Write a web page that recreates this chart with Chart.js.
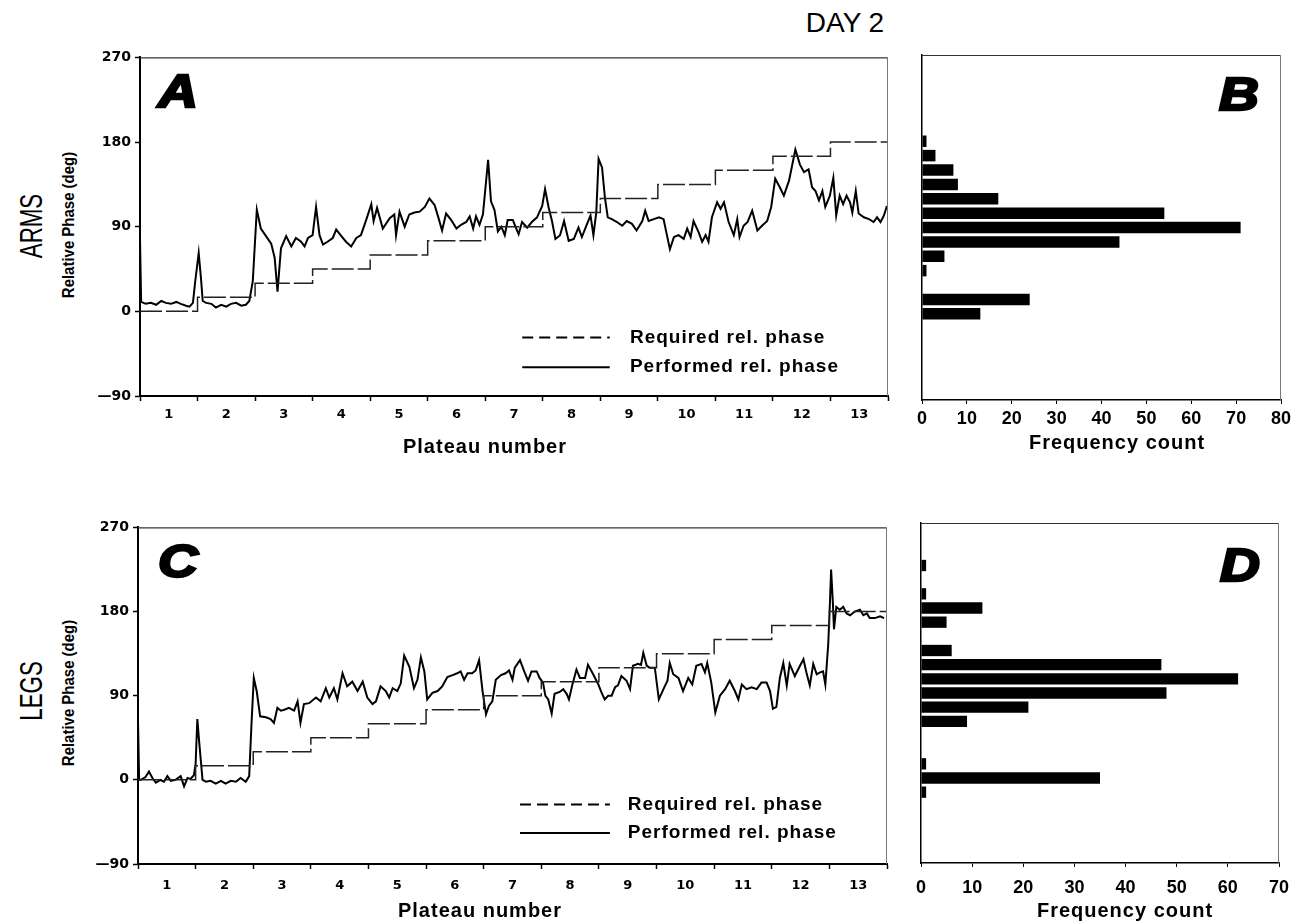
<!DOCTYPE html>
<html lang="en">
<head>
<meta charset="UTF-8">
<title>Day 2 - relative phase</title>
<script src="https://cdn.jsdelivr.net/npm/chart.js"></script>
<style>
  html, body { margin: 0; padding: 0; background: #fff; }
  body { width: 1291px; height: 922px; position: relative; overflow: hidden; color: #000;
         font-family: "Liberation Sans", Arial, sans-serif; }
  .box { position: absolute; }
  .lbl { position: absolute; white-space: nowrap; line-height: 1; transform: translate(-50%, -50%); }
  .axt { font-weight: bold; font-size: 20px; letter-spacing: 1px; }
  .letter { position: absolute; white-space: nowrap; line-height: 1; font-style: italic; font-weight: bold;
            font-size: 46px; -webkit-text-stroke: 2.5px #000; transform: translate(-50%, -50%) scaleX(1.2); }
  .side { position: absolute; white-space: nowrap; line-height: 1; font-size: 31px;
          transform: translate(-50%, -50%) rotate(-90deg) scaleX(0.72); }
  .ytl { position: absolute; white-space: nowrap; line-height: 1; font-size: 17px; font-weight: bold;
         transform: translate(-50%, -50%) rotate(-90deg) scaleX(0.88); }
</style>
</head>
<body>

<div class="lbl" style="left:845px; top:23px; font-size:28px;">DAY 2</div>

<div class="side" style="left:31px; top:226px;">ARMS</div>
<div class="ytl" style="left:68px; top:225px;">Relative Phase (deg)</div>
<div class="side" style="left:31px; top:691px;">LEGS</div>
<div class="ytl" style="left:68px; top:693px;">Relative Phase (deg)</div>

<div class="box" style="left:60px; top:45px; width:838px; height:420px;"><canvas id="chartA"></canvas></div>
<div class="box" style="left:912px; top:45px; width:379px; height:420px;"><canvas id="chartB"></canvas></div>
<div class="box" style="left:60px; top:515px; width:837px; height:400px;"><canvas id="chartC"></canvas></div>
<div class="box" style="left:911px; top:513px; width:380px; height:402px;"><canvas id="chartD"></canvas></div>

<div class="lbl axt" style="left:485px; top:446px;">Plateau number</div>
<div class="lbl axt" style="left:1117px; top:442px;">Frequency count</div>
<div class="lbl axt" style="left:480px; top:910px;">Plateau number</div>
<div class="lbl axt" style="left:1125px; top:910px;">Frequency count</div>

<div class="letter" style="left:178px; top:91px;">A</div>
<div class="letter" style="left:1239px; top:94px;">B</div>
<div class="letter" style="left:178px; top:561px;">C</div>
<div class="letter" style="left:1240px; top:565px;">D</div>

<script>
// plateau labels on the x axis (shown in the middle of each plateau)
const plateauLabels = ['1', '2', '3', '4', '5', '6', '7', '8', '9', '10', '11', '12', '13'];

// required relative phase for each plateau (deg)
const requiredPhase = [0, 15, 30, 45, 60, 75, 90, 105, 120, 135, 150, 165, 180];

// ARMS - performed relative phase (time in plateau units)
const armsTime = [0, 0.02, 0.10, 0.19, 0.28, 0.37, 0.45, 0.54, 0.63, 0.71, 0.80, 0.86, 0.92, 0.96, 1.02, 1.06, 1.09, 1.15, 1.24, 1.32,
  1.41, 1.50, 1.58, 1.67, 1.76, 1.84, 1.90, 1.96, 2.03, 2.10, 2.19, 2.28, 2.34, 2.39, 2.45, 2.54, 2.63, 2.71, 2.80, 2.86,
  2.92, 3.00, 3.06, 3.12, 3.18, 3.26, 3.35, 3.41, 3.50, 3.58, 3.67, 3.76, 3.84, 3.93, 4.02, 4.06, 4.12, 4.22, 4.34, 4.42,
  4.45, 4.51, 4.60, 4.68, 4.77, 4.86, 4.95, 5.03, 5.12, 5.18, 5.25, 5.32, 5.41, 5.50, 5.58, 5.67, 5.73, 5.79, 5.84, 5.90,
  5.96, 6.05, 6.10, 6.16, 6.22, 6.28, 6.34, 6.39, 6.48, 6.52, 6.58, 6.64, 6.73, 6.81, 6.90, 6.99, 7.04, 7.10, 7.16, 7.22,
  7.30, 7.37, 7.45, 7.54, 7.62, 7.68, 7.77, 7.83, 7.88, 7.93, 7.97, 8.03, 8.08, 8.13, 8.20, 8.29, 8.38, 8.46, 8.55, 8.63,
  8.73, 8.78, 8.84, 8.93, 9.02, 9.10, 9.13, 9.21, 9.28, 9.36, 9.45, 9.51, 9.57, 9.62, 9.71, 9.77, 9.83, 9.88, 9.94, 10.03,
  10.09, 10.15, 10.23, 10.32, 10.38, 10.42, 10.49, 10.56, 10.64, 10.73, 10.81, 10.90, 10.97, 11.04, 11.12, 11.19, 11.28, 11.39, 11.47, 11.54,
  11.62, 11.68, 11.74, 11.80, 11.86, 11.91, 11.99, 12.05, 12.10, 12.16, 12.22, 12.28, 12.34, 12.38, 12.44, 12.49, 12.58, 12.67, 12.75, 12.81,
  12.87, 12.93, 12.98];
const armsPhase = [78, 10, 8, 9, 7, 11, 9, 8, 10, 8, 6, 5, 9, 32, 62, 35, 11, 9, 8, 4,
  7, 5, 8, 9, 6, 7, 11, 32, 108, 88, 80, 72, 57, 21, 67, 80, 69, 78, 74, 69,
  78, 81, 111, 81, 71, 74, 78, 87, 80, 74, 69, 78, 81, 97, 114, 96, 110, 88, 99, 103,
  81, 106, 90, 103, 105, 106, 111, 120, 113, 101, 86, 104, 97, 88, 92, 95, 101, 88, 101, 92,
  103, 161, 117, 108, 85, 90, 81, 97, 97, 91, 82, 95, 89, 95, 100, 112, 130, 111, 96, 77,
  81, 96, 75, 77, 89, 79, 93, 102, 81, 105, 162, 153, 121, 100, 98, 95, 91, 96, 93, 86,
  96, 107, 96, 98, 100, 98, 89, 66, 79, 81, 77, 88, 79, 96, 84, 74, 81, 74, 100, 116,
  109, 116, 95, 81, 98, 79, 91, 95, 107, 86, 91, 96, 111, 141, 132, 123, 139, 172, 156, 148,
  151, 132, 128, 118, 128, 111, 123, 142, 102, 123, 114, 123, 116, 105, 128, 104, 100, 98, 95, 100,
  95, 102, 112];

// LEGS - performed relative phase
const legsTime = [0, 0.02, 0.05, 0.13, 0.19, 0.25, 0.31, 0.39, 0.45, 0.51, 0.57, 0.65, 0.74, 0.80, 0.86, 0.91, 0.97, 1.00, 1.03, 1.06,
  1.12, 1.18, 1.26, 1.35, 1.44, 1.52, 1.61, 1.70, 1.78, 1.87, 1.93, 1.97, 2.01, 2.06, 2.12, 2.22, 2.30, 2.36, 2.42, 2.48,
  2.54, 2.62, 2.71, 2.77, 2.82, 2.88, 2.97, 3.09, 3.17, 3.26, 3.32, 3.40, 3.46, 3.55, 3.63, 3.72, 3.81, 3.90, 3.98, 4.07,
  4.13, 4.21, 4.30, 4.36, 4.42, 4.50, 4.56, 4.62, 4.71, 4.79, 4.85, 4.91, 4.97, 5.02, 5.11, 5.20, 5.28, 5.37, 5.46, 5.54,
  5.60, 5.66, 5.72, 5.80, 5.86, 5.92, 5.98, 6.04, 6.09, 6.15, 6.21, 6.30, 6.38, 6.44, 6.50, 6.54, 6.63, 6.71, 6.77, 6.83,
  6.92, 6.97, 7.03, 7.07, 7.12, 7.18, 7.23, 7.32, 7.38, 7.44, 7.48, 7.54, 7.61, 7.67, 7.76, 7.81, 7.90, 7.99, 8.04, 8.10,
  8.16, 8.22, 8.28, 8.33, 8.39, 8.48, 8.54, 8.59, 8.68, 8.73, 8.77, 8.83, 8.88, 8.97, 9.04, 9.12, 9.19, 9.23, 9.29, 9.38,
  9.46, 9.55, 9.62, 9.69, 9.78, 9.84, 9.88, 9.95, 10.02, 10.10, 10.19, 10.27, 10.36, 10.42, 10.48, 10.56, 10.65, 10.74, 10.82, 10.91,
  10.97, 11.02, 11.08, 11.14, 11.20, 11.26, 11.31, 11.40, 11.49, 11.55, 11.60, 11.66, 11.72, 11.78, 11.84, 11.89, 11.93, 11.98, 12.01, 12.03,
  12.06, 12.08, 12.12, 12.18, 12.24, 12.30, 12.36, 12.44, 12.53, 12.59, 12.65, 12.70, 12.79, 12.88, 12.95];
const legsPhase = [63, 0, 0, 3, 9, 2, -3, 0, -2, 4, -1, 0, 4, -7, 2, 1, 5, 17, 65, 42,
  0, -2, -1, -4, -1, -4, -1, -2, 2, -2, 4, 60, 109, 95, 68, 67, 65, 61, 77, 74,
  75, 77, 74, 84, 61, 81, 82, 88, 84, 98, 88, 98, 86, 114, 100, 105, 95, 105, 88, 81,
  84, 100, 95, 88, 98, 95, 103, 133, 121, 98, 107, 131, 116, 86, 93, 95, 100, 110, 112, 114,
  116, 107, 114, 114, 117, 128, 95, 70, 79, 84, 107, 112, 114, 117, 107, 120, 128, 115, 106, 116,
  116, 109, 104, 90, 86, 71, 92, 94, 97, 92, 86, 102, 118, 109, 109, 123, 113, 102, 94, 86,
  90, 90, 99, 101, 111, 106, 97, 122, 124, 123, 136, 122, 120, 120, 86, 97, 106, 125, 113, 109,
  95, 109, 102, 122, 124, 115, 125, 104, 72, 90, 97, 106, 95, 86, 102, 97, 99, 97, 104, 104,
  95, 76, 78, 109, 125, 101, 124, 111, 122, 129, 115, 101, 124, 113, 115, 116, 102, 145, 190, 225,
  190, 161, 185, 182, 185, 178, 176, 180, 182, 176, 178, 173, 173, 175, 173];

// histograms: bin centres (deg) and frequency counts
const armsBins = [180, 165, 150, 135, 120, 105, 90, 75, 60, 45, 30, 15, 0];
const armsCounts = [1, 3, 7, 8, 17, 54, 71, 44, 5, 1, 0, 24, 13];
const legsBins = [225, 210, 195, 180, 165, 150, 135, 120, 105, 90, 75, 60, 45, 30, 15, 0, -15];
const legsCounts = [1, 0, 1, 12, 5, 0, 6, 47, 62, 48, 21, 9, 0, 0, 1, 35, 1];

const tickFont = { family: '"DejaVu Sans", sans-serif', weight: 'bold', size: 13 };
const countFont = { family: '"Liberation Sans", Arial, sans-serif', weight: 'bold', size: 18 };

// thin frame on top and right of the plot
const framePlugin = {
  id: 'frame',
  afterDraw(chart) {
    const { ctx, chartArea: a } = chart;
    ctx.save();
    ctx.strokeStyle = '#333';
    ctx.lineWidth = 1.2;
    ctx.beginPath();
    ctx.moveTo(a.left, a.top + 0.5);
    ctx.lineTo(a.right - 0.5, a.top + 0.5);
    ctx.stroke();
    ctx.strokeStyle = '#777';
    ctx.lineWidth = 1;
    ctx.beginPath();
    ctx.moveTo(a.right - 0.5, a.top);
    ctx.lineTo(a.right - 0.5, a.bottom);
    ctx.stroke();
    ctx.restore();
  }
};

// legend drawn inside the plot, from the datasets
const phaseLegend = {
  id: 'phaseLegend',
  afterDraw(chart, args, o) {
    if (!o || o.x === undefined) return;
    const { ctx, chartArea: a } = chart;
    const w = a.right - a.left, h = a.bottom - a.top;
    ctx.save();
    ctx.font = 'bold 19px "Liberation Sans", Arial, sans-serif';
    ctx.letterSpacing = '1px';
    ctx.fillStyle = '#000';
    ctx.strokeStyle = '#000';
    ctx.textBaseline = 'middle';
    chart.data.datasets.forEach((ds, i) => {
      const y = a.top + h * (o.y + i * o.gap);
      ctx.setLineDash(ds.legendDash || []);
      ctx.lineWidth = 2;
      ctx.beginPath();
      ctx.moveTo(a.left + w * o.x, y);
      ctx.lineTo(a.left + w * (o.x + o.len), y);
      ctx.stroke();
      ctx.setLineDash([]);
      ctx.fillText(ds.label, a.left + w * o.textX, y);
    });
    ctx.restore();
  }
};

function stepPoints(req) {
  const pts = req.map((v, i) => ({ x: i, y: v }));
  pts.push({ x: req.length, y: req[req.length - 1] });
  return pts;
}

function zipPoints(t, v) {
  return t.map((x, i) => ({ x: x, y: v[i] }));
}

// keep the plot box where it is: labels may hang over the edges
function fixX(h) {
  return s => { s.height = h; s.paddingLeft = 0; s.paddingRight = 0; };
}

function phaseChart(id, time, phase, yWidth, xHeight, labelPad, legend) {
  return new Chart(document.getElementById(id), {
    type: 'line',
    data: {
      datasets: [
        { label: 'Required rel. phase', data: stepPoints(requiredPhase), stepped: true,
          borderColor: '#222', borderWidth: 1.5, borderDash: [22, 4], pointRadius: 0, legendDash: [11, 6] },
        { label: 'Performed rel. phase', data: zipPoints(time, phase),
          borderColor: '#000', borderWidth: 2, pointRadius: 0, tension: 0, legendDash: [] }
      ]
    },
    plugins: [framePlugin, phaseLegend],
    options: {
      responsive: true,
      maintainAspectRatio: false,
      animation: false,
      layout: { padding: { top: 10, right: 10, left: 0, bottom: 0 } },
      plugins: { legend: { display: false }, tooltip: { enabled: false }, phaseLegend: legend },
      scales: {
        x: {
          type: 'linear', min: 0, max: 13,
          border: { color: '#000', width: 2 },
          grid: { drawOnChartArea: false, tickLength: 5, tickWidth: 1.5,
                  tickColor: c => (c.tick && c.tick.value % 1 === 0 ? '#000' : 'rgba(0,0,0,0)') },
          ticks: { stepSize: 0.5, autoSkip: false, maxRotation: 0, color: '#000', font: tickFont, padding: labelPad,
                   callback: v => (v % 1 === 0.5 ? plateauLabels[Math.floor(v)] : '') },
          afterFit: fixX(xHeight)
        },
        y: {
          min: -90, max: 270,
          border: { color: '#000', width: 2 },
          grid: { drawOnChartArea: false, tickLength: 5, tickWidth: 1.5, tickColor: '#000' },
          ticks: { stepSize: 90, color: '#000', font: { family: '"DejaVu Sans", sans-serif', weight: 'bold', size: 14 },
                   padding: 4, callback: v => (v < 0 ? '\u2014' + Math.abs(v) : String(v)) },
          afterFit: s => { s.width = yWidth; }
        }
      }
    }
  });
}

function countChart(id, bins, counts, maxCount, yWidth, xHeight, labelPad, pad) {
  return new Chart(document.getElementById(id), {
    type: 'bar',
    data: {
      datasets: [{ label: 'Frequency count', data: bins.map((b, i) => ({ x: counts[i], y: b })),
                   backgroundColor: '#000', borderWidth: 0, categoryPercentage: 1, barPercentage: 0.8 }]
    },
    plugins: [framePlugin],
    options: {
      indexAxis: 'y',
      responsive: true,
      maintainAspectRatio: false,
      animation: false,
      layout: { padding: pad },
      plugins: { legend: { display: false }, tooltip: { enabled: false } },
      scales: {
        x: {
          type: 'linear', min: 0, max: maxCount,
          border: { color: '#000', width: 1.5 },
          grid: { drawOnChartArea: false, tickLength: 4, tickColor: '#000' },
          ticks: { stepSize: 10, color: '#000', font: countFont, padding: labelPad, maxRotation: 0 },
          afterFit: fixX(xHeight)
        },
        y: {
          type: 'linear', min: -90, max: 270, offset: false,
          border: { color: '#000', width: 1.5 },
          grid: { drawOnChartArea: false, drawTicks: false, offset: false },
          ticks: { display: false },
          afterFit: s => { s.width = yWidth; s.paddingTop = 0; s.paddingBottom = 0; }
        }
      }
    }
  });
}

phaseChart('chartA', armsTime, armsPhase, 80, 69, 6,
  { x: 0.511, len: 0.117, y: 0.827, gap: 0.088, textX: 0.655 });
countChart('chartB', armsBins, armsCounts, 80, 10, 65, 4, { top: 10, right: 10, left: 0, bottom: 0 });
phaseChart('chartC', legsTime, legsPhase, 78, 51, 9,
  { x: 0.51, len: 0.12, y: 0.823, gap: 0.085, textX: 0.654 });
countChart('chartD', legsBins, legsCounts, 70, 10, 52, 10, { top: 10, right: 12, left: 0, bottom: 0 });
</script>
</body>
</html>
